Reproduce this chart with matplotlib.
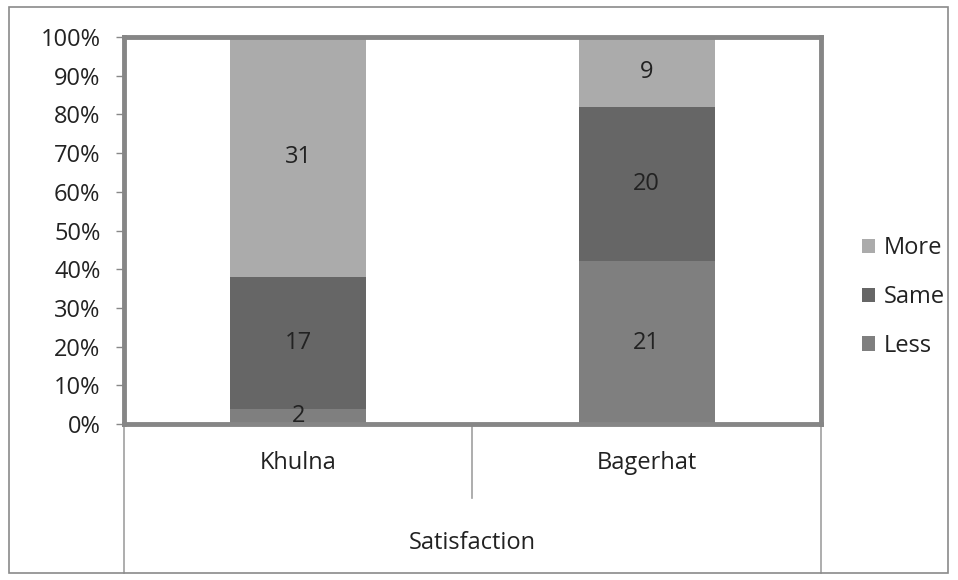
import matplotlib
matplotlib.use("Agg")
import matplotlib.pyplot as plt
from matplotlib.patches import Rectangle, Patch
from matplotlib.transforms import blended_transform_factory
import numpy as np

categories = ["Khulna", "Bagerhat"]
group_label = "Satisfaction"
series = ["Less", "Same", "More"]
less = [2, 21]
same = [17, 20]
more = [31, 9]
colors = {"Less": "#7f7f7f", "Same": "#666666", "More": "#ababab"}
yticks = [0, 10, 20, 30, 40, 50, 60, 70, 80, 90, 100]
ytick_labels = [f"{v}%" for v in yticks]

plt.rcParams['font.family'] = ['Open Sans', 'DejaVu Sans']
FS = 17

W, H = 958, 580
fig = plt.figure(figsize=(W / 100, H / 100), dpi=100)
fig.patches.append(Rectangle((9 / W, 7 / H), (948 - 9) / W, (573 - 7) / H,
                             transform=fig.transFigure, fill=False,
                             edgecolor="#8a8a8a", linewidth=1.2))

left, right, top, bottom = 124, 821, 37, 424
ax = fig.add_axes([left / W, 1 - bottom / H, (right - left) / W, (bottom - top) / H])

data = {"Less": np.array(less, float), "Same": np.array(same, float), "More": np.array(more, float)}
totals = sum(data.values())
x = np.arange(len(categories))
base = np.zeros(len(categories))
for s in series:
    pct = data[s] / totals * 100
    ax.bar(x, pct, bottom=base, width=0.39, color=colors[s], label=s, zorder=2)
    for xi, b, p, v in zip(x, base, pct, data[s]):
        ax.text(xi, b + p / 2, f"{int(v)}", ha="center", va="center",
                fontsize=FS, color="#222222", zorder=3)
    base = base + pct

ax.set_xlim(-0.5, len(categories) - 0.5)
ax.set_ylim(0, 100)
ax.set_yticks(yticks)
ax.set_yticklabels(ytick_labels, fontsize=FS, color="#222222")
ax.tick_params(axis="y", length=6, width=1, color="#888888", pad=11)
ax.set_xticks([])
for sp in ax.spines.values():
    sp.set_color("#868686")
    sp.set_linewidth(3.5)

tr = blended_transform_factory(ax.transData, ax.transAxes)
h_ax = bottom - top
long_y = -(573 - bottom) / h_ax
mid_y = -(498 - bottom) / h_ax
for xv, yb in [(-0.5, long_y), (0.5, mid_y), (len(categories) - 0.5, long_y)]:
    ax.plot([xv, xv], [0, yb], transform=tr, color="#a0a0a0", linewidth=1.2,
            clip_on=False)
for xi, c in zip(x, categories):
    ax.text(xi, -(463 - bottom) / h_ax, c, transform=tr, ha="center", va="center",
            fontsize=FS, color="#222222")
ax.text(np.mean(x), -(543 - bottom) / h_ax, group_label, transform=tr,
        ha="center", va="center", fontsize=FS, color="#222222")

handles = [Patch(facecolor=colors[s], label=s) for s in reversed(series)]
fig.legend(handles=handles, loc="center left",
           bbox_to_anchor=(841 / W, 1 - 297 / H), frameon=False, fontsize=FS,
           handlelength=0.55, handleheight=0.55, handletextpad=0.38,
           labelspacing=1.05, labelcolor="#222222")

fig.savefig("out.png", dpi=100)
